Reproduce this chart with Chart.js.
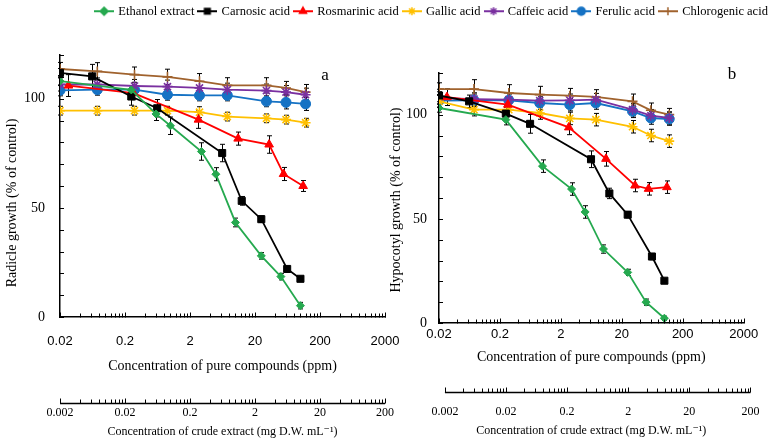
<!doctype html>
<html>
<head>
<meta charset="utf-8">
<title>Radicle and hypocotyl growth</title>
<script src="https://cdn.jsdelivr.net/npm/chart.js@4.4.1/dist/chart.umd.min.js"></script>
<style>
    body { margin: 0; background: #fff; }
    #wrap { position: relative; width: 772px; height: 443px; overflow: hidden; }
    canvas { position: absolute; top: 0; }
    #chartA { left: 0; }
    #chartB { left: 380px; }
    #legendCv { left: 80px; }
</style>
</head>
<body>
<div id="wrap">
    <canvas id="chartA" width="440" height="443"></canvas>
    <canvas id="chartB" width="392" height="443"></canvas>
    <canvas id="legendCv" width="704" height="40"></canvas>
</div>
<script>
// ---- data ----
var SERIES = ['Ethanol extract', 'Carnosic acid', 'Rosmarinic acid', 'Gallic acid', 'Caffeic acid', 'Ferulic acid', 'Chlorogenic acid'];
var PURE_TICKS = [0.02, 0.2, 2, 20, 200, 2000];
var CRUDE_TICKS = [0.002, 0.02, 0.2, 2, 20, 200];
var Y_LABELS = [0, 50, 100];

// concentrations (ppm scale)
var X_ETH_A = [0.02, 0.25, 0.6, 1, 3, 5, 10, 25, 50, 100];
var X_ETH_B = [0.02, 0.25, 1, 3, 5, 10, 25, 50, 100];
var X_CAR = [0.02, 0.0625, 0.25, 0.625, 6.25, 12.5, 25, 62.5, 100];
var X_ROS = [0.027, 0.27, 2.7, 11, 33, 55, 110];
var X_PHEN = [0.02, 0.075, 0.28, 0.9, 2.8, 7.5, 30, 60, 120];

// panel a: radicle growth (% of control)
var ETH_A = [108, 104, 93, 87.6, 75.8, 65.4, 43.3, 28, 18.5, 5.2];
var CAR_A = [111.8, 110.2, 101, 95.6, 75.1, 53.2, 44.8, 22, 17.5];
var ROS_A = [106, 102.5, 90.4, 81.7, 79, 65.5, 60];
var GAL_A = [94.5, 94.5, 94.5, 94.5, 93.8, 91.8, 91, 90.4, 89];
var CAF_A = [106.5, 106.5, 105.8, 105.5, 104.9, 104.1, 103.7, 103, 101.8];
var FER_A = [103.8, 104.1, 104.1, 101.8, 101.5, 101.5, 98.8, 98.3, 97.6];
var CHL_A = [113.6, 112.5, 111, 110, 108, 106.1, 106.1, 104.9, 103];

var ERR_ETH_A = [2, 2, 3, 4, 4, 3, 2, 1.5, 1.5, 1.5];
var ERR_CAR_A = [2, 5.5, 4, 4, 4, 2, 1.5, 1, 1];
var ERR_ROS_A = [5, 3, 4, 3, 4, 3, 2.5];
var ERR_GAL_A = [2, 2, 2, 2, 2.5, 2, 2, 2, 2];
var ERR_CAF_A = [3, 3, 3, 3, 3, 3, 3, 3, 3];
var ERR_FER_A = [2.5, 2.5, 2.5, 2.5, 2.5, 2.5, 2.5, 3, 3];
var ERR_CHL_A = [3, 4, 3.5, 3.5, 3.5, 3.5, 3.5, 3, 3.5];

// panel b: hypocotyl growth (% of control)
var ETH_B = [103.2, 97.6, 75.3, 64.3, 53.3, 35.5, 24.3, 10, 2.3];
var CAR_B = [109.2, 106.4, 100.5, 95.6, 78.6, 62.2, 52, 31.9, 20.3];
var ROS_B = [108.4, 104.8, 93.9, 78.8, 66, 64.4, 65.2];
var GAL_B = [106.4, 102.4, 102.4, 100.8, 98.2, 97.6, 94.2, 90, 87.3];
var CAF_B = [108, 107.5, 107.2, 106.7, 106.9, 107.2, 102.4, 99.5, 98.4];
var FER_B = [106.7, 106.9, 106.9, 105.6, 104.8, 105.6, 101.6, 98.4, 97.9];
var CHL_B = [112.3, 112.3, 110.4, 109.6, 109.1, 108.5, 106.4, 102.1, 100];

var ERR_ETH_B = [2, 2.5, 3, 3, 3, 2, 1.5, 1.5, 1];
var ERR_CAR_B = [3, 3, 3, 4.5, 4, 2.5, 1.5, 1.5, 1];
var ERR_ROS_B = [4, 3, 3.5, 3.5, 3, 3, 3];
var ERR_GAL_B = [3, 3, 3, 3, 3, 3, 3, 3, 3];
var ERR_CAF_B = [3, 3, 3, 3, 3, 3, 3, 3, 3];
var ERR_FER_B = [3, 3, 3, 3, 3, 3, 3, 3, 3];
var ERR_CHL_B = [3, 4.5, 4, 4, 3.5, 3.5, 3.5, 3.5, 3];

// ---- styles ----
var COLORS = ['#25a94f', '#000000', '#ff0000', '#ffc000', '#7a30a0', '#1572c4', '#a0622d'];
var MARKERS = ['rectRot', 'rect', 'triangle', 'star', 'star', 'circle', 'cross'];
var RADII = [4, 5, 5, 5, 5, 5, 5];
var SERIF = "'Liberation Serif', 'DejaVu Serif', serif";
var SANS = "'Liberation Sans', Arial, sans-serif";

function makeSets(xs, ys, errs) {
    return SERIES.map(function (name, i) {
        return {
            label: name,
            data: xs[i].map(function (x, j) { return { x: x, y: ys[i][j] }; }),
            errors: errs[i],
            borderColor: COLORS[i],
            backgroundColor: COLORS[i],
            pointStyle: MARKERS[i],
            pointRadius: RADII[i],
            pointBorderWidth: (MARKERS[i] == 'star' || MARKERS[i] == 'cross') ? 1.6 : 1,
            borderWidth: 1.8,
            tension: 0
        };
    });
}

// error bars drawn under the markers
var errorBars = {
    id: 'errorBars',
    beforeDatasetsDraw: function (chart) {
        var ctx = chart.ctx, ys = chart.scales.y;
        ctx.save();
        ctx.strokeStyle = '#000';
        ctx.lineWidth = 1;
        chart.data.datasets.forEach(function (ds, i) {
            chart.getDatasetMeta(i).data.forEach(function (pt, j) {
                var v = ds.data[j].y, e = ds.errors[j];
                var t = ys.getPixelForValue(v + e), b = ys.getPixelForValue(v - e);
                var x = Math.round(pt.x) + 0.5;
                ctx.beginPath();
                ctx.moveTo(x, t); ctx.lineTo(x, b);
                ctx.moveTo(x - 2.5, t); ctx.lineTo(x + 2.5, t);
                ctx.moveTo(x - 2.5, b); ctx.lineTo(x + 2.5, b);
                ctx.stroke();
            });
        });
        ctx.restore();
    }
};

// tick marks pointing into the plot: log ticks on both concentration axes, 10-steps on y
var axisTicks = {
    id: 'axisTicks',
    afterDraw: function (chart) {
        var ctx = chart.ctx;
        ctx.save();
        ctx.strokeStyle = '#000';
        [['x', PURE_TICKS], ['x2', CRUDE_TICKS]].forEach(function (p) {
            var sc = chart.scales[p[0]], dec = p[1], y0 = sc.top + 0.5;
            if (p[0] == 'x2') {
                ctx.lineWidth = 1.5;
                ctx.beginPath();
                ctx.moveTo(sc.getPixelForValue(dec[0]), y0);
                ctx.lineTo(sc.getPixelForValue(dec[dec.length - 1]), y0);
                ctx.stroke();
            }
            ctx.lineWidth = 1;
            ctx.beginPath();
            dec.forEach(function (d, n) {
                var px = Math.round(sc.getPixelForValue(d)) + 0.5;
                ctx.moveTo(px, y0); ctx.lineTo(px, y0 - 5);
                if (n < dec.length - 1) {
                    for (var k = 2; k <= 9; k++) {
                        var q = Math.round(sc.getPixelForValue(d * k)) + 0.5;
                        ctx.moveTo(q, y0); ctx.lineTo(q, y0 - 4);
                    }
                }
            });
            ctx.stroke();
        });
        var ys = chart.scales.y, x0 = ys.right;
        ctx.beginPath();
        ys.ticks.forEach(function (t) {
            var py = Math.round(ys.getPixelForValue(t.value)) + 0.5;
            ctx.moveTo(x0, py); ctx.lineTo(x0 + 4, py);
        });
        ctx.stroke();
        ctx.restore();
    }
};

// free text: panel letter and y title
var panelText = {
    id: 'panelText',
    afterDraw: function (chart, args, opts) {
        var ctx = chart.ctx;
        (opts.items || []).forEach(function (t) {
            ctx.save();
            ctx.translate(t.x, t.y);
            ctx.rotate(t.rot || 0);
            ctx.font = t.font;
            ctx.fillStyle = '#000';
            ctx.textAlign = 'center';
            ctx.textBaseline = 'middle';
            ctx.fillText(t.text, 0, 0);
            ctx.restore();
        });
    }
};

function scaleSet(p) {
    return {
        y: {
            type: 'linear', min: 0, max: 120,
            afterFit: function (s) { s.width = p.yWidth; },
            ticks: {
                stepSize: 10, autoSkip: false, padding: p.yPad, color: '#000',
                font: { family: SERIF, size: 14 },
                callback: function (v) { return Y_LABELS.indexOf(v) >= 0 ? String(v) : ''; }
            },
            grid: { display: false, drawTicks: false },
            border: { color: '#000', width: 1.5 }
        },
        x: {
            type: 'logarithmic', position: 'bottom', weight: 0, min: 0.02, max: 2000,
            afterFit: function (s) { s.height = p.xHeight; },
            afterBuildTicks: function (s) { s.ticks = PURE_TICKS.map(function (v) { return { value: v }; }); },
            ticks: {
                autoSkip: false, maxRotation: 0, padding: p.xPad, color: '#000',
                font: { family: SANS, size: 13 },
                callback: function (v) { return String(v); }
            },
            grid: { display: false, drawTicks: false },
            border: { color: '#000', width: 1.5 },
            title: {
                display: true, text: 'Concentration of pure compounds (ppm)', color: '#000',
                font: { family: SERIF, size: 14 }, padding: { top: 0, bottom: p.xTitlePad }
            }
        },
        x2: {
            type: 'logarithmic', position: 'bottom', weight: 1, display: true, min: p.x2Min, max: p.x2Max,
            afterFit: function (s) { s.height = p.x2Height; },
            afterBuildTicks: function (s) { s.ticks = CRUDE_TICKS.map(function (v) { return { value: v }; }); },
            ticks: {
                autoSkip: false, maxRotation: 0, padding: p.x2Pad, color: '#000',
                font: { family: SERIF, size: 12 },
                callback: function (v) { return String(v); }
            },
            grid: { display: false, drawTicks: false },
            border: { display: false },
            title: {
                display: true, text: 'Concentration of crude extract (mg D.W. mL\u207B\u00B9)', color: '#000',
                font: { family: SERIF, size: 12 }, padding: { top: 0, bottom: p.x2TitlePad }
            }
        }
    };
}

function makePanel(id, sets, p) {
    return new Chart(document.getElementById(id), {
        type: 'line',
        data: { datasets: sets },
        options: {
            responsive: false,
            animation: false,
            layout: { padding: p.padding },
            scales: scaleSet(p),
            plugins: {
                legend: { display: false },
                tooltip: { enabled: false },
                panelText: { items: p.texts }
            }
        },
        plugins: [errorBars, axisTicks, panelText]
    });
}

makePanel('chartA',
    makeSets([X_ETH_A, X_CAR, X_ROS, X_PHEN, X_PHEN, X_PHEN, X_PHEN],
        [ETH_A, CAR_A, ROS_A, GAL_A, CAF_A, FER_A, CHL_A],
        [ERR_ETH_A, ERR_CAR_A, ERR_ROS_A, ERR_GAL_A, ERR_CAF_A, ERR_FER_A, ERR_CHL_A]),
    {
        padding: { top: 55, right: 55, left: 0, bottom: 0 },
        yWidth: 60, yPad: 15,
        xHeight: 86, xPad: 17, xTitlePad: 28,
        x2Height: 40, x2Pad: 3, x2TitlePad: 4, x2Min: 0.002, x2Max: 200,
        texts: [
            { text: 'a', x: 325, y: 76, font: '17px ' + SERIF },
            { text: 'Radicle growth (% of control)', x: 12, y: 203, rot: -Math.PI / 2, font: '14px ' + SERIF }
        ]
    });

makePanel('chartB',
    makeSets([X_ETH_B, X_CAR, X_ROS, X_PHEN, X_PHEN, X_PHEN, X_PHEN],
        [ETH_B, CAR_B, ROS_B, GAL_B, CAF_B, FER_B, CHL_B],
        [ERR_ETH_B, ERR_CAR_B, ERR_ROS_B, ERR_GAL_B, ERR_CAF_B, ERR_FER_B, ERR_CHL_B]),
    {
        padding: { top: 73, right: 19, left: 0, bottom: 0 },
        yWidth: 59, yPad: 12,
        xHeight: 69, xPad: 4, xTitlePad: 26,
        x2Height: 51, x2Pad: 13, x2TitlePad: 5, x2Min: 0.0016, x2Max: 155,
        texts: [
            { text: 'b', x: 352, y: 75, font: '17px ' + SERIF },
            { text: 'Hypocotyl growth (% of control)', x: 16, y: 200, rot: -Math.PI / 2, font: '14px ' + SERIF }
        ]
    });

// legend strip: line with marker, then the name
function symbolCanvas(i) {
    var c = document.createElement('canvas');
    c.width = 20; c.height = 12;
    var g = c.getContext('2d');
    g.strokeStyle = COLORS[i];
    g.fillStyle = COLORS[i];
    g.lineWidth = 2;
    g.beginPath(); g.moveTo(0, 6); g.lineTo(20, 6); g.stroke();
    if (Chart.helpers && Chart.helpers.drawPoint) {
        g.lineWidth = 1.5;
        Chart.helpers.drawPoint(g, { pointStyle: MARKERS[i], radius: 4, borderWidth: 1.5, rotation: 0 }, 10, 6);
    }
    return c;
}
var SYMBOLS = SERIES.map(function (n, i) { return symbolCanvas(i); });

new Chart(document.getElementById('legendCv'), {
    type: 'line',
    data: { datasets: SERIES.map(function (n, i) { return { label: n, data: [], borderColor: COLORS[i] }; }) },
    options: {
        responsive: false,
        animation: false,
        layout: { padding: 0 },
        scales: { x: { display: false }, y: { display: false } },
        plugins: {
            tooltip: { enabled: false },
            legend: {
                display: true, position: 'top', onClick: null,
                labels: {
                    usePointStyle: true, pointStyleWidth: 16, padding: 5, color: '#000',
                    font: { family: SERIF, size: 12.5 },
                    generateLabels: function () {
                        return SERIES.map(function (n, i) {
                            return { text: n, pointStyle: SYMBOLS[i], fillStyle: COLORS[i], strokeStyle: COLORS[i], lineWidth: 0, hidden: false, datasetIndex: i, fontColor: '#000' };
                        });
                    }
                }
            }
        }
    }
});
</script>
</body>
</html>
